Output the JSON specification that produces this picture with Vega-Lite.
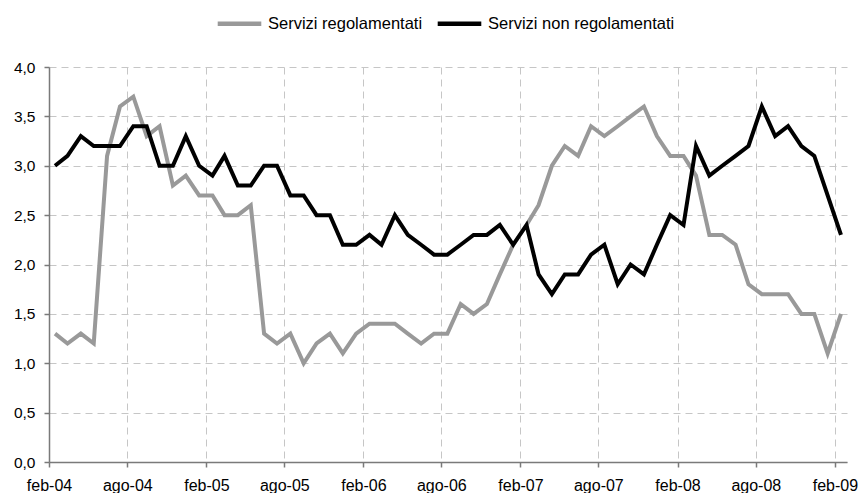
{
  "$schema": "https://vega.github.io/schema/vega-lite/v6.json",
  "autosize": "none",
  "width": 798,
  "height": 395,
  "padding": {"left": 49, "top": 67, "right": 21, "bottom": 31},
  "background": "white",
  "config": {
    "locale": {
      "number": {"decimal": ",", "thousands": ".", "grouping": [3], "currency": ["€", ""]}
    },
    "view": {"stroke": null},
    "font": "Liberation Sans",
    "axis": {
      "labelFont": "Liberation Sans",
      "labelFontSize": 15.5,
      "labelColor": "#000000",
      "domainColor": "#7a7a7a",
      "domainWidth": 1.5,
      "tickColor": "#7a7a7a",
      "tickWidth": 1.5,
      "tickSize": 5,
      "gridColor": "#c6c6c6",
      "gridDash": [7, 5],
      "gridWidth": 1
    }
  },
  "data": {
    "values": [
      {"mese": "2004-02-15", "serie": "Servizi regolamentati", "valore": 1.3},
      {"mese": "2004-03-15", "serie": "Servizi regolamentati", "valore": 1.2},
      {"mese": "2004-04-15", "serie": "Servizi regolamentati", "valore": 1.3},
      {"mese": "2004-05-15", "serie": "Servizi regolamentati", "valore": 1.2},
      {"mese": "2004-06-15", "serie": "Servizi regolamentati", "valore": 3.1},
      {"mese": "2004-07-15", "serie": "Servizi regolamentati", "valore": 3.6},
      {"mese": "2004-08-15", "serie": "Servizi regolamentati", "valore": 3.7},
      {"mese": "2004-09-15", "serie": "Servizi regolamentati", "valore": 3.3},
      {"mese": "2004-10-15", "serie": "Servizi regolamentati", "valore": 3.4},
      {"mese": "2004-11-15", "serie": "Servizi regolamentati", "valore": 2.8},
      {"mese": "2004-12-15", "serie": "Servizi regolamentati", "valore": 2.9},
      {"mese": "2005-01-15", "serie": "Servizi regolamentati", "valore": 2.7},
      {"mese": "2005-02-15", "serie": "Servizi regolamentati", "valore": 2.7},
      {"mese": "2005-03-15", "serie": "Servizi regolamentati", "valore": 2.5},
      {"mese": "2005-04-15", "serie": "Servizi regolamentati", "valore": 2.5},
      {"mese": "2005-05-15", "serie": "Servizi regolamentati", "valore": 2.6},
      {"mese": "2005-06-15", "serie": "Servizi regolamentati", "valore": 1.3},
      {"mese": "2005-07-15", "serie": "Servizi regolamentati", "valore": 1.2},
      {"mese": "2005-08-15", "serie": "Servizi regolamentati", "valore": 1.3},
      {"mese": "2005-09-15", "serie": "Servizi regolamentati", "valore": 1.0},
      {"mese": "2005-10-15", "serie": "Servizi regolamentati", "valore": 1.2},
      {"mese": "2005-11-15", "serie": "Servizi regolamentati", "valore": 1.3},
      {"mese": "2005-12-15", "serie": "Servizi regolamentati", "valore": 1.1},
      {"mese": "2006-01-15", "serie": "Servizi regolamentati", "valore": 1.3},
      {"mese": "2006-02-15", "serie": "Servizi regolamentati", "valore": 1.4},
      {"mese": "2006-03-15", "serie": "Servizi regolamentati", "valore": 1.4},
      {"mese": "2006-04-15", "serie": "Servizi regolamentati", "valore": 1.4},
      {"mese": "2006-05-15", "serie": "Servizi regolamentati", "valore": 1.3},
      {"mese": "2006-06-15", "serie": "Servizi regolamentati", "valore": 1.2},
      {"mese": "2006-07-15", "serie": "Servizi regolamentati", "valore": 1.3},
      {"mese": "2006-08-15", "serie": "Servizi regolamentati", "valore": 1.3},
      {"mese": "2006-09-15", "serie": "Servizi regolamentati", "valore": 1.6},
      {"mese": "2006-10-15", "serie": "Servizi regolamentati", "valore": 1.5},
      {"mese": "2006-11-15", "serie": "Servizi regolamentati", "valore": 1.6},
      {"mese": "2006-12-15", "serie": "Servizi regolamentati", "valore": 1.9},
      {"mese": "2007-01-15", "serie": "Servizi regolamentati", "valore": 2.2},
      {"mese": "2007-02-15", "serie": "Servizi regolamentati", "valore": 2.4},
      {"mese": "2007-03-15", "serie": "Servizi regolamentati", "valore": 2.6},
      {"mese": "2007-04-15", "serie": "Servizi regolamentati", "valore": 3.0},
      {"mese": "2007-05-15", "serie": "Servizi regolamentati", "valore": 3.2},
      {"mese": "2007-06-15", "serie": "Servizi regolamentati", "valore": 3.1},
      {"mese": "2007-07-15", "serie": "Servizi regolamentati", "valore": 3.4},
      {"mese": "2007-08-15", "serie": "Servizi regolamentati", "valore": 3.3},
      {"mese": "2007-09-15", "serie": "Servizi regolamentati", "valore": 3.4},
      {"mese": "2007-10-15", "serie": "Servizi regolamentati", "valore": 3.5},
      {"mese": "2007-11-15", "serie": "Servizi regolamentati", "valore": 3.6},
      {"mese": "2007-12-15", "serie": "Servizi regolamentati", "valore": 3.3},
      {"mese": "2008-01-15", "serie": "Servizi regolamentati", "valore": 3.1},
      {"mese": "2008-02-15", "serie": "Servizi regolamentati", "valore": 3.1},
      {"mese": "2008-03-15", "serie": "Servizi regolamentati", "valore": 2.9},
      {"mese": "2008-04-15", "serie": "Servizi regolamentati", "valore": 2.3},
      {"mese": "2008-05-15", "serie": "Servizi regolamentati", "valore": 2.3},
      {"mese": "2008-06-15", "serie": "Servizi regolamentati", "valore": 2.2},
      {"mese": "2008-07-15", "serie": "Servizi regolamentati", "valore": 1.8},
      {"mese": "2008-08-15", "serie": "Servizi regolamentati", "valore": 1.7},
      {"mese": "2008-09-15", "serie": "Servizi regolamentati", "valore": 1.7},
      {"mese": "2008-10-15", "serie": "Servizi regolamentati", "valore": 1.7},
      {"mese": "2008-11-15", "serie": "Servizi regolamentati", "valore": 1.5},
      {"mese": "2008-12-15", "serie": "Servizi regolamentati", "valore": 1.5},
      {"mese": "2009-01-15", "serie": "Servizi regolamentati", "valore": 1.1},
      {"mese": "2009-02-15", "serie": "Servizi regolamentati", "valore": 1.5},
      {"mese": "2004-02-15", "serie": "Servizi non regolamentati", "valore": 3.0},
      {"mese": "2004-03-15", "serie": "Servizi non regolamentati", "valore": 3.1},
      {"mese": "2004-04-15", "serie": "Servizi non regolamentati", "valore": 3.3},
      {"mese": "2004-05-15", "serie": "Servizi non regolamentati", "valore": 3.2},
      {"mese": "2004-06-15", "serie": "Servizi non regolamentati", "valore": 3.2},
      {"mese": "2004-07-15", "serie": "Servizi non regolamentati", "valore": 3.2},
      {"mese": "2004-08-15", "serie": "Servizi non regolamentati", "valore": 3.4},
      {"mese": "2004-09-15", "serie": "Servizi non regolamentati", "valore": 3.4},
      {"mese": "2004-10-15", "serie": "Servizi non regolamentati", "valore": 3.0},
      {"mese": "2004-11-15", "serie": "Servizi non regolamentati", "valore": 3.0},
      {"mese": "2004-12-15", "serie": "Servizi non regolamentati", "valore": 3.3},
      {"mese": "2005-01-15", "serie": "Servizi non regolamentati", "valore": 3.0},
      {"mese": "2005-02-15", "serie": "Servizi non regolamentati", "valore": 2.9},
      {"mese": "2005-03-15", "serie": "Servizi non regolamentati", "valore": 3.1},
      {"mese": "2005-04-15", "serie": "Servizi non regolamentati", "valore": 2.8},
      {"mese": "2005-05-15", "serie": "Servizi non regolamentati", "valore": 2.8},
      {"mese": "2005-06-15", "serie": "Servizi non regolamentati", "valore": 3.0},
      {"mese": "2005-07-15", "serie": "Servizi non regolamentati", "valore": 3.0},
      {"mese": "2005-08-15", "serie": "Servizi non regolamentati", "valore": 2.7},
      {"mese": "2005-09-15", "serie": "Servizi non regolamentati", "valore": 2.7},
      {"mese": "2005-10-15", "serie": "Servizi non regolamentati", "valore": 2.5},
      {"mese": "2005-11-15", "serie": "Servizi non regolamentati", "valore": 2.5},
      {"mese": "2005-12-15", "serie": "Servizi non regolamentati", "valore": 2.2},
      {"mese": "2006-01-15", "serie": "Servizi non regolamentati", "valore": 2.2},
      {"mese": "2006-02-15", "serie": "Servizi non regolamentati", "valore": 2.3},
      {"mese": "2006-03-15", "serie": "Servizi non regolamentati", "valore": 2.2},
      {"mese": "2006-04-15", "serie": "Servizi non regolamentati", "valore": 2.5},
      {"mese": "2006-05-15", "serie": "Servizi non regolamentati", "valore": 2.3},
      {"mese": "2006-06-15", "serie": "Servizi non regolamentati", "valore": 2.2},
      {"mese": "2006-07-15", "serie": "Servizi non regolamentati", "valore": 2.1},
      {"mese": "2006-08-15", "serie": "Servizi non regolamentati", "valore": 2.1},
      {"mese": "2006-09-15", "serie": "Servizi non regolamentati", "valore": 2.2},
      {"mese": "2006-10-15", "serie": "Servizi non regolamentati", "valore": 2.3},
      {"mese": "2006-11-15", "serie": "Servizi non regolamentati", "valore": 2.3},
      {"mese": "2006-12-15", "serie": "Servizi non regolamentati", "valore": 2.4},
      {"mese": "2007-01-15", "serie": "Servizi non regolamentati", "valore": 2.2},
      {"mese": "2007-02-15", "serie": "Servizi non regolamentati", "valore": 2.4},
      {"mese": "2007-03-15", "serie": "Servizi non regolamentati", "valore": 1.9},
      {"mese": "2007-04-15", "serie": "Servizi non regolamentati", "valore": 1.7},
      {"mese": "2007-05-15", "serie": "Servizi non regolamentati", "valore": 1.9},
      {"mese": "2007-06-15", "serie": "Servizi non regolamentati", "valore": 1.9},
      {"mese": "2007-07-15", "serie": "Servizi non regolamentati", "valore": 2.1},
      {"mese": "2007-08-15", "serie": "Servizi non regolamentati", "valore": 2.2},
      {"mese": "2007-09-15", "serie": "Servizi non regolamentati", "valore": 1.8},
      {"mese": "2007-10-15", "serie": "Servizi non regolamentati", "valore": 2.0},
      {"mese": "2007-11-15", "serie": "Servizi non regolamentati", "valore": 1.9},
      {"mese": "2007-12-15", "serie": "Servizi non regolamentati", "valore": 2.2},
      {"mese": "2008-01-15", "serie": "Servizi non regolamentati", "valore": 2.5},
      {"mese": "2008-02-15", "serie": "Servizi non regolamentati", "valore": 2.4},
      {"mese": "2008-03-15", "serie": "Servizi non regolamentati", "valore": 3.2},
      {"mese": "2008-04-15", "serie": "Servizi non regolamentati", "valore": 2.9},
      {"mese": "2008-05-15", "serie": "Servizi non regolamentati", "valore": 3.0},
      {"mese": "2008-06-15", "serie": "Servizi non regolamentati", "valore": 3.1},
      {"mese": "2008-07-15", "serie": "Servizi non regolamentati", "valore": 3.2},
      {"mese": "2008-08-15", "serie": "Servizi non regolamentati", "valore": 3.6},
      {"mese": "2008-09-15", "serie": "Servizi non regolamentati", "valore": 3.3},
      {"mese": "2008-10-15", "serie": "Servizi non regolamentati", "valore": 3.4},
      {"mese": "2008-11-15", "serie": "Servizi non regolamentati", "valore": 3.2},
      {"mese": "2008-12-15", "serie": "Servizi non regolamentati", "valore": 3.1},
      {"mese": "2009-01-15", "serie": "Servizi non regolamentati", "valore": 2.7},
      {"mese": "2009-02-15", "serie": "Servizi non regolamentati", "valore": 2.3}
    ]
  },
  "mark": {"type": "line", "strokeWidth": 4, "strokeJoin": "miter", "strokeCap": "butt"},
  "encoding": {
    "x": {
      "field": "mese",
      "type": "temporal",
      "scale": {
        "type": "utc",
        "domain": [
          {"year": 2004, "month": 2, "date": 1, "utc": true},
          {"year": 2009, "month": 3, "date": 1, "utc": true}
        ]
      },
      "axis": {
        "title": null,
        "values": [
          {"year": 2004, "month": 2, "date": 1, "utc": true},
          {"year": 2004, "month": 8, "date": 1, "utc": true},
          {"year": 2005, "month": 2, "date": 1, "utc": true},
          {"year": 2005, "month": 8, "date": 1, "utc": true},
          {"year": 2006, "month": 2, "date": 1, "utc": true},
          {"year": 2006, "month": 8, "date": 1, "utc": true},
          {"year": 2007, "month": 2, "date": 1, "utc": true},
          {"year": 2007, "month": 8, "date": 1, "utc": true},
          {"year": 2008, "month": 2, "date": 1, "utc": true},
          {"year": 2008, "month": 8, "date": 1, "utc": true},
          {"year": 2009, "month": 2, "date": 1, "utc": true}
        ],
        "labelExpr": "(utcmonth(datum.value) == 1 ? 'feb-' : 'ago-') + utcFormat(datum.value, '%y')",
        "labelFontSize": 16,
        "labelPadding": 10,
        "labelAngle": 0,
        "labelOverlap": false,
        "labelFlush": false,
        "grid": true
      }
    },
    "y": {
      "field": "valore",
      "type": "quantitative",
      "scale": {"domain": [0, 4], "nice": false, "zero": true},
      "axis": {
        "title": null,
        "values": [0, 0.5, 1, 1.5, 2, 2.5, 3, 3.5, 4],
        "format": ".1f",
        "labelPadding": 9,
        "grid": true
      }
    },
    "color": {
      "field": "serie",
      "type": "nominal",
      "sort": ["Servizi regolamentati", "Servizi non regolamentati"],
      "scale": {
        "domain": ["Servizi regolamentati", "Servizi non regolamentati"],
        "range": ["#999999", "#000000"]
      },
      "legend": {
        "title": null,
        "orient": "none",
        "direction": "horizontal",
        "legendX": 166,
        "legendY": -68,
        "symbolType": "stroke",
        "symbolSize": 1900,
        "symbolStrokeWidth": 4.5,
        "labelFont": "Liberation Sans",
        "labelFontSize": 16.5,
        "labelColor": "#000000",
        "labelOffset": 4,
        "columnPadding": 5,
        "labelLimit": 300
      }
    }
  }
}
